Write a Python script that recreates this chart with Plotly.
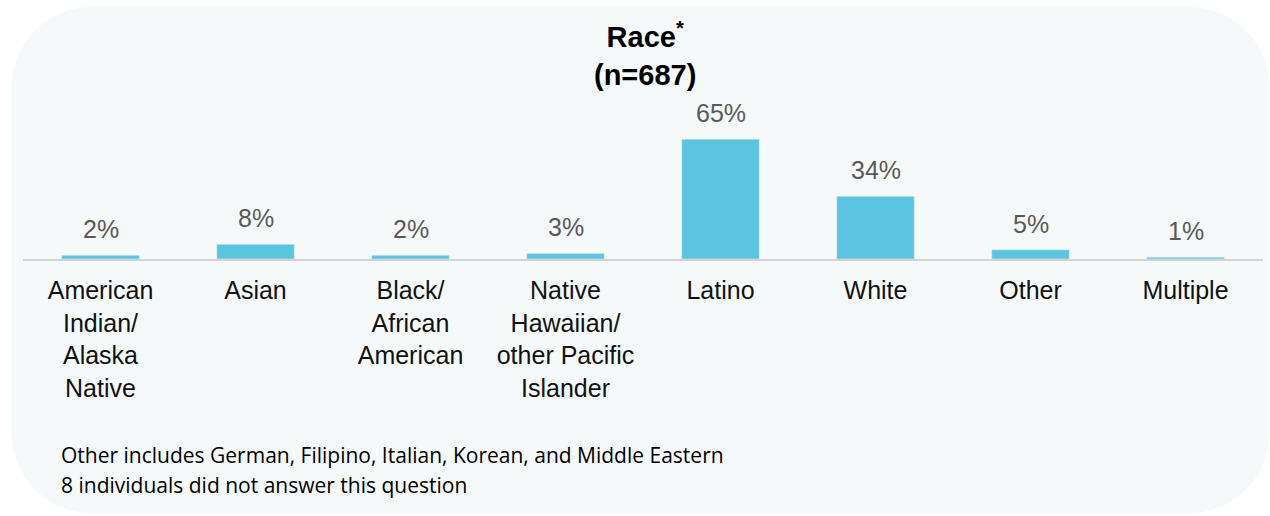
import plotly.graph_objects as go

# data
categories = [
    'American<br>Indian/<br>Alaska<br>Native',
    'Asian',
    'Black/<br>African<br>American',
    'Native<br>Hawaiian/<br>other Pacific<br>Islander',
    'Latino',
    'White',
    'Other',
    'Multiple',
]
percents = [2, 8, 2, 3, 65, 34, 5, 1]
title_text = '<b>Race<sup>*</sup><br>(n=687)</b>'
footnotes = [
    'Other includes German, Filipino, Italian, Korean, and Middle Eastern',
    '8 individuals did not answer this question',
]

W, H = 1270, 516
ML, MR, MT, MB = 22.5, 6.5, 130, 257
pw, ph = W - ML - MR, H - MT - MB

def px(x):
    return (x - ML) / pw

def py(y):
    return (H - MB - y) / ph

# rounded background panel (pixel coords converted to paper)
x0, x1, y0, y1, r = 11, 1270, 7, 513, 80
path = (
    f'M {px(x0 + r)} {py(y0)} L {px(x1 - r)} {py(y0)} '
    f'C {px(x1 - r * 0.45)} {py(y0)} {px(x1)} {py(y0 + r * 0.45)} {px(x1)} {py(y0 + r)} '
    f'L {px(x1)} {py(y1 - r)} '
    f'C {px(x1)} {py(y1 - r * 0.45)} {px(x1 - r * 0.45)} {py(y1)} {px(x1 - r)} {py(y1)} '
    f'L {px(x0 + r)} {py(y1)} '
    f'C {px(x0 + r * 0.45)} {py(y1)} {px(x0)} {py(y1 - r * 0.45)} {px(x0)} {py(y1 - r)} '
    f'L {px(x0)} {py(y0 + r)} '
    f'C {px(x0)} {py(y0 + r * 0.45)} {px(x0 + r * 0.45)} {py(y0)} {px(x0 + r)} {py(y0)} Z'
)

fig = go.Figure()
fig.add_trace(go.Bar(
    x=categories,
    y=percents,
    marker_color='#5BC5E0',
    width=0.5,
    hoverinfo='skip',
))

# value labels above the bars
for cat, p in zip(categories, percents):
    fig.add_annotation(x=cat, y=p, text=f'{p}%', showarrow=False, yanchor='bottom', yshift=10,
                       font=dict(family='Liberation Sans, Arial', size=25, color='#595959'))

fig.add_shape(type='path', path=path, xref='paper', yref='paper',
              fillcolor='#F5F9FA', line_width=0, layer='below')

fig.add_annotation(text=title_text, xref='paper', yref='paper', x=px(645), y=py(54),
                   xanchor='center', yanchor='middle', showarrow=False,
                   font=dict(family='Liberation Sans, Arial', size=29, color='black'))

fig.update_layout(
    width=W, height=H,
    margin=dict(l=ML, r=MR, t=MT, b=MB),
    paper_bgcolor='white',
    plot_bgcolor='rgba(0,0,0,0)',
    showlegend=False,
    xaxis=dict(showline=True, linecolor='#D3D3D3', linewidth=2, showgrid=False,
               tickfont=dict(family='Liberation Sans, Arial', size=25, color='#111111'),
               ticks='', ticklabelstandoff=8, fixedrange=True),
    yaxis=dict(range=[0, 70], visible=False, fixedrange=True),
)

for i, note in enumerate(footnotes):
    fig.add_annotation(text=note, xref='paper', yref='paper', x=px(59), y=py(455 + 30 * i),
                       xanchor='left', yanchor='middle', showarrow=False,
                       font=dict(family='Open Sans', size=21, color='black'))

fig.write_html('out.html', config={'displayModeBar': False},
               post_script="document.body.style.margin='0';")
